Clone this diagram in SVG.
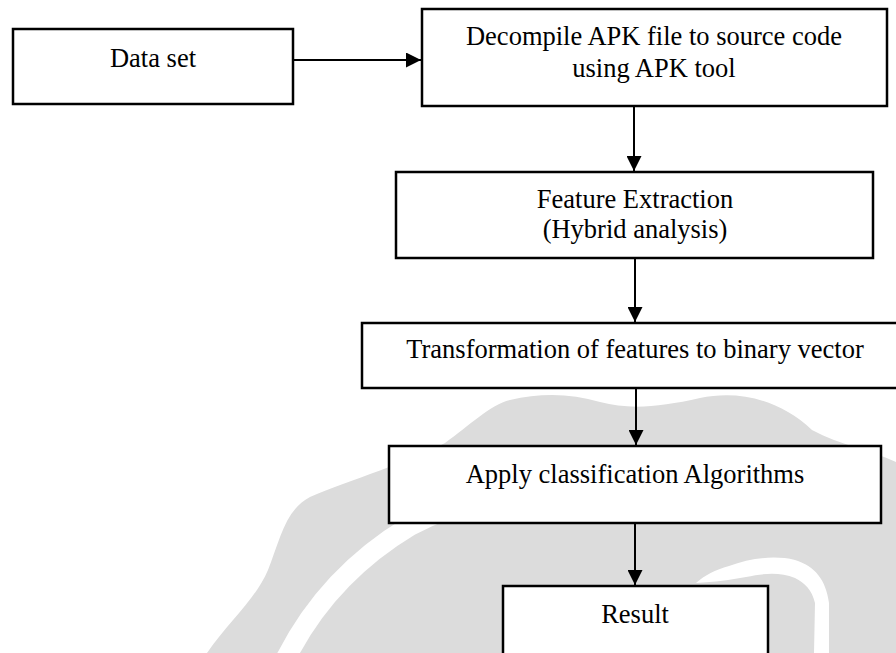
<svg xmlns="http://www.w3.org/2000/svg" width="896" height="653" viewBox="0 0 896 653">
<style>
.box{fill:#fff;stroke:#000;stroke-width:2.5}
.lbl{font-family:"Liberation Serif","Times New Roman",serif;font-size:26.5px;fill:#000;text-anchor:middle}
.conn{stroke:#000;stroke-width:2;fill:none}
</style>
<defs>
<marker id="ah" markerWidth="15" markerHeight="15" refX="15" refY="7.5" orient="auto" markerUnits="userSpaceOnUse">
<path d="M0,0 L15,7.5 L0,15 Z" fill="#000"/>
</marker>
</defs>
<rect width="896" height="653" fill="#fff"/>
<g id="watermark">
<path d="M207 653 C230 620,255 600,268 570 C280 540,285 510,310 497 C350 480,410 462,445 443 C470 425,490 405,510 400 C540 393,570 393,600 402 C630 410,660 407,700 398 C740 390,780 400,812 430 C840 445,870 450,896 462 L896 653 Z" fill="#dcdcdc"/>
<path d="M285 660 C310 610,350 562,410 526 C440 510,470 500,500 495" fill="none" stroke="#fff" stroke-width="20"/>
<path d="M696 583 C705 575,715 570,729 566 C750 558,775 555,795 560 C815 566,826 580,829 603 L829 653 L814 653 L815 603 C812 590,805 583,795 578 C780 572,765 573,746 577 C730 580,715 582,696 583 Z" fill="#fff"/>
</g>
<g id="connectors">
<line class="conn" x1="293" y1="60" x2="421" y2="60" marker-end="url(#ah)"/>
<line class="conn" x1="634" y1="106" x2="634" y2="171" marker-end="url(#ah)"/>
<line class="conn" x1="635" y1="258" x2="635" y2="322" marker-end="url(#ah)"/>
<line class="conn" x1="636" y1="388" x2="636" y2="445" marker-end="url(#ah)"/>
<line class="conn" x1="635" y1="523" x2="635" y2="585" marker-end="url(#ah)"/>
</g>
<g id="dataset">
<rect class="box" x="13" y="29" width="280" height="75"/>
<text class="lbl" x="153" y="67">Data set</text>
</g>
<g id="decompile">
<rect class="box" x="422" y="9" width="465" height="97"/>
<text class="lbl" x="654" y="45">Decompile APK file to source code</text>
<text class="lbl" x="654" y="77">using APK tool</text>
</g>
<g id="feature">
<rect class="box" x="396" y="172" width="477" height="86"/>
<text class="lbl" x="635" y="208">Feature Extraction</text>
<text class="lbl" x="635" y="238"> (Hybrid analysis)</text>
</g>
<g id="transform">
<rect class="box" x="362" y="323" width="545" height="65"/>
<text class="lbl" x="635" y="358">Transformation of features to binary vector</text>
</g>
<g id="classify">
<rect class="box" x="389" y="446" width="492" height="77"/>
<text class="lbl" x="635" y="483">Apply classification Algorithms</text>
</g>
<g id="result">
<rect class="box" x="503" y="586" width="265" height="100"/>
<text class="lbl" x="635" y="623">Result</text>
</g>
</svg>
